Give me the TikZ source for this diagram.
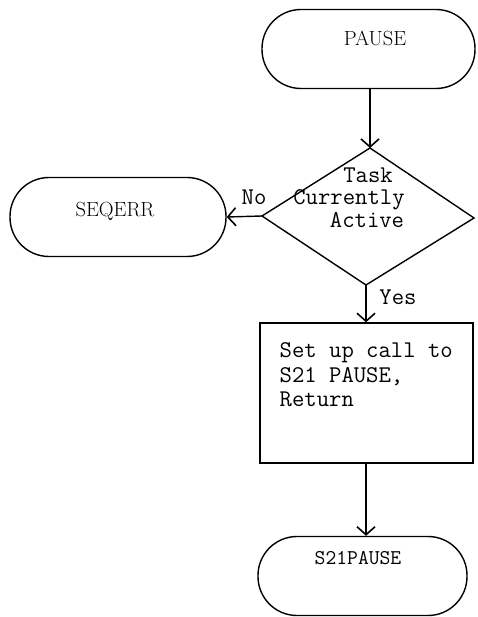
\documentclass[tikz,border=0pt]{standalone}
\usepackage{fontspec}
\usetikzlibrary{arrows.meta}
\begin{document}
\begin{tikzpicture}[x=1pt,y=-1pt,
  line width=1.4pt,
  term/.style={draw, rounded corners=39pt, minimum height=79pt, inner sep=0pt},
  txt/.style={font=\fontsize{24}{24.5}\ttfamily, inner sep=0pt},
  rtxt/.style={font=\fontsize{20.5}{22}\rmfamily, inner sep=0pt},
  arr/.style={-{Straight Barb[length=8pt,width=18pt,line width=1.6pt]}},
  lbl/.style={font=\fontsize{24}{24.5}\ttfamily, inner sep=0pt}]
\useasboundingbox (0,0) rectangle (477,617);
% terminals
\node[term, minimum width=213pt] (pause) at (368.5,49) {};
\node[rtxt] (pauset) at (375,38) {PAUSE};
\node[term, minimum width=216pt] (seqerr) at (118,217) {};
\node[rtxt] (seqerrt) at (115,211) {SEQERR};
\node[term, minimum width=209pt] (s21) at (362.5,576) {};
\node[txt, font=\fontsize{21}{22}\ttfamily] (s21t) at (358,558) {S21PAUSE};
% decision
\coordinate (dt) at (370,148);
\coordinate (dl) at (262,216);
\coordinate (dr) at (474,218);
\coordinate (db) at (366,285);
\draw (dt) -- (dr) -- (db) -- (dl) -- cycle;
\node[txt, anchor=base] (task) at (368,183) {Task};
\node[txt, anchor=base] (curr) at (349,205) {Currently};
\node[txt, anchor=base] (act) at (367,228) {Active};
% process box
\node[draw, minimum width=213pt, minimum height=140pt, inner sep=0pt] (box) at (366.5,393) {};
\node[txt, anchor=base west] (boxt1) at (279,357) {Set up call to};
\node[txt, anchor=base west] (boxt2) at (279,382) {S21 PAUSE,};
\node[txt, anchor=base west] (boxt3) at (279,406) {Return};
% connectors
\draw[arr] (pause.south -| dt) -- (dt);
\draw[arr] (dl) -- (seqerr.east);
\node[lbl, anchor=base] (no) at (254,205) {No};
\draw[arr] (db) -- (box.north -| db);
\node[lbl, anchor=base] (yes) at (398,304) {Yes};
\draw[arr] (box.south -| db) -- (s21.north -| db);
\end{tikzpicture}
\end{document}
